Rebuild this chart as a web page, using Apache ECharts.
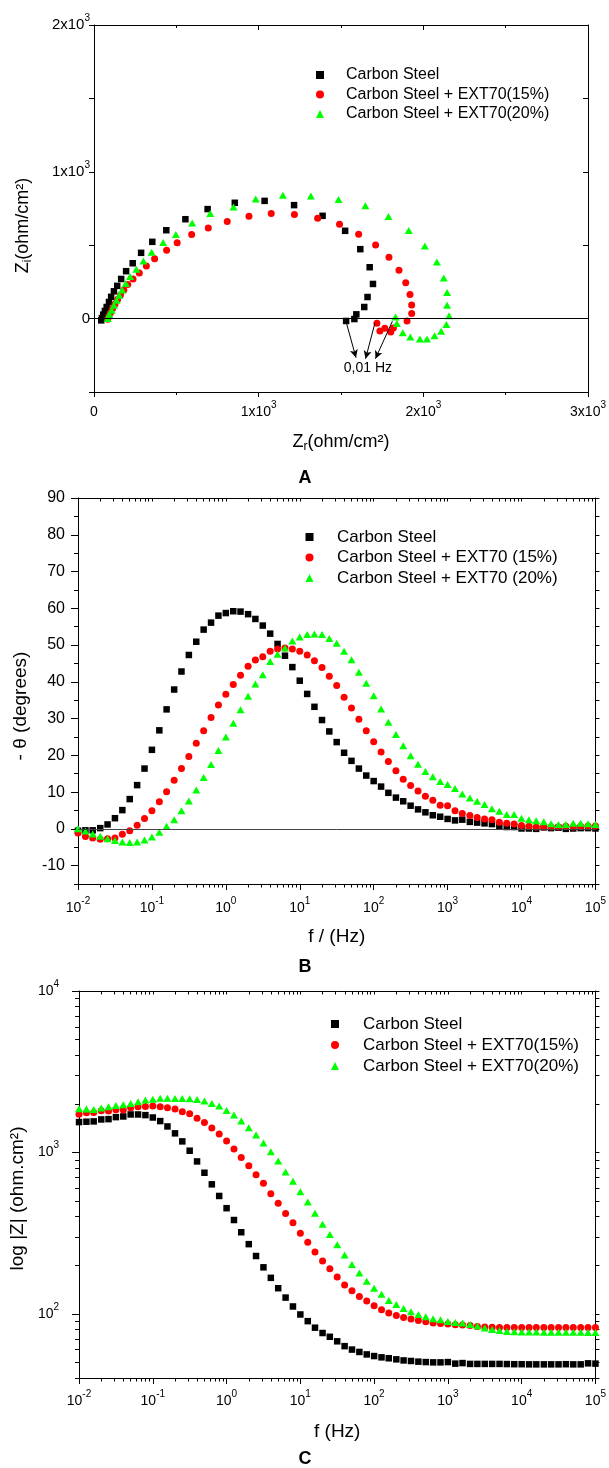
<!DOCTYPE html>
<html>
<head>
<meta charset="utf-8">
<title>EIS</title>
<script src="https://cdn.jsdelivr.net/npm/echarts@6.0.0/dist/echarts.min.js"></script>
<style>
html,body{margin:0;padding:0;background:#ffffff;}
#chart{width:609px;height:1468px;}
</style>
</head>
<body>
<div id="chart"></div>
<script>
// ================= DATA =================
// Panel A – Nyquist (Zr, Zi in ohm/cm²), from high to low frequency
const nyqSteelZr = [44, 48, 56, 66, 77, 91, 104, 121, 141, 165, 195, 235, 286, 354, 439, 555, 690, 855, 1036, 1215, 1388, 1525, 1617, 1674, 1694, 1661, 1641, 1593, 1581, 1531];
const nyqSteelZi = [-12, 4, 27, 52, 79, 113, 148, 186, 223, 270, 323, 377, 448, 523, 602, 677, 746, 789, 802, 773, 700, 598, 473, 350, 236, 147, 79, 29, -3, -16];
const nyq15Zr = [83, 91, 101, 113, 127, 143, 161, 181, 205, 237, 275, 318, 368, 441, 505, 593, 694, 809, 941, 1076, 1217, 1358, 1491, 1607, 1710, 1791, 1852, 1893, 1919, 1929, 1929, 1901, 1818, 1802, 1766, 1736, 1718];
const nyq15Zi = [-5, 18, 41, 68, 98, 130, 161, 195, 232, 270, 311, 359, 407, 466, 516, 573, 618, 662, 698, 716, 709, 684, 643, 575, 502, 418, 330, 245, 164, 93, 34, -16, -64, -91, -66, -85, -32];
const nyq20Zr = [83, 92, 107, 121, 137, 153, 171, 193, 219, 257, 300, 350, 420, 497, 596, 706, 847, 982, 1147, 1317, 1485, 1648, 1788, 1911, 2009, 2082, 2124, 2144, 2144, 2156, 2140, 2108, 2068, 2022, 1979, 1921, 1875, 1839, 1831];
const nyq20Zi = [0, 29, 57, 91, 125, 159, 195, 239, 286, 336, 393, 452, 518, 573, 652, 716, 761, 814, 840, 836, 812, 768, 696, 600, 495, 386, 277, 177, 91, 20, -41, -87, -116, -139, -139, -125, -96, -34, 11];
// annotation arrows in panel A: [fromZr, fromZi, toZr, toZi]
const arrowsA = [[1531, -23, 1591, -266], [1706, -30, 1649, -273], [1812, -18, 1709, -273]];
const annotA = {text: '0,01 Hz', zr: 1663, zi: -340};

// Frequencies (Hz) for panels B and C
const freq = [0.01, 0.0126, 0.0158, 0.02, 0.0251, 0.0316, 0.0398, 0.0501, 0.0631, 0.0794,
  0.1, 0.126, 0.158, 0.2, 0.251, 0.316, 0.398, 0.501, 0.631, 0.794,
  1, 1.26, 1.58, 2, 2.51, 3.16, 3.98, 5.01, 6.31, 7.94,
  10, 12.6, 15.8, 20, 25.1, 31.6, 39.8, 50.1, 63.1, 79.4,
  100, 126, 158, 200, 251, 316, 398, 501, 631, 794,
  1000, 1260, 1580, 2000, 2510, 3160, 3980, 5010, 6310, 7940,
  10000, 12600, 15800, 20000, 25100, 31600, 39800, 50100, 63100, 79400, 100000];

// Panel B – phase angle (-θ, degrees)
const phaseSteel = [-0.5, -0.4, -0.4, 0.2, 1.2, 2.9, 5.1, 8.1, 11.9, 16.4,
  21.5, 26.8, 32.5, 37.9, 42.8, 47.3, 50.9, 54.2, 56.1, 58.0,
  58.7, 59.2, 59.1, 58.4, 57.1, 55.3, 53.1, 50.3, 47.1, 44.0,
  40.3, 36.7, 33.2, 29.6, 26.5, 23.6, 20.7, 18.5, 16.4, 14.5,
  13.0, 11.5, 9.8, 8.5, 7.5, 6.3, 5.3, 4.5, 3.7, 3.3,
  2.7, 2.3, 2.5, 1.9, 1.7, 1.5, 1.3, 0.7, 0.5, 0.5,
  0.1, 0.1, 0.0, 0.4, 0.2, 0.3, 0.0, 0.1, 0.2, 0.2, 0.1];
const phase15 = [-1.1, -2.1, -2.5, -2.8, -2.7, -2.5, -1.5, -0.5, 1.0, 2.8,
  4.9, 7.4, 10.1, 13.2, 16.4, 19.7, 23.3, 26.7, 30.3, 33.7,
  36.6, 39.3, 41.8, 44.2, 45.9, 46.8, 48.3, 48.9, 49.2, 48.9,
  48.3, 47.3, 45.7, 43.9, 41.5, 39.0, 35.8, 32.9, 29.8, 26.7,
  23.7, 20.9, 18.3, 15.8, 13.5, 11.8, 10.3, 8.9, 7.8, 6.4,
  6.3, 4.9, 4.2, 3.6, 3.1, 2.7, 2.5, 1.8, 1.5, 1.3,
  0.9, 0.7, 0.5, 0.5, 0.5, 0.5, 0.7, 0.5, 0.7, 0.8, 0.8];
const phase20 = [0.0, -0.6, -1.4, -2.0, -2.7, -3.2, -3.6, -3.7, -3.6, -3.0,
  -2.2, -0.9, 0.7, 2.5, 4.9, 7.6, 10.6, 14.0, 17.5, 21.3,
  25.0, 28.7, 32.4, 36.1, 39.4, 41.9, 45.5, 47.5, 49.2, 51.1,
  52.2, 52.9, 53.0, 52.9, 51.8, 50.5, 48.3, 46.0, 42.6, 39.6,
  36.2, 32.6, 29.0, 25.7, 22.6, 19.9, 17.6, 15.6, 14.2, 12.9,
  12.1, 11.0, 9.5, 8.4, 7.5, 6.6, 5.5, 4.8, 3.9, 3.9,
  2.9, 2.5, 2.2, 1.9, 1.4, 1.2, 1.2, 1.5, 1.5, 1.4, 1.2];

// Panel C – |Z| (ohm.cm²)
const modSteel = [1541, 1549, 1556, 1600, 1607, 1654, 1670, 1718, 1718, 1702,
  1645, 1563, 1448, 1312, 1170, 1024, 879, 748, 634, 537,
  451, 381, 320, 270, 228, 194, 167, 144, 126, 111,
  99, 90, 82, 76, 72, 67.5, 63, 60, 58, 56,
  54.7, 53.7, 53, 52.2, 51.4, 51, 50.5, 50.2, 50, 50,
  50.2, 49.1, 49.5, 48.9, 48.9, 48.9, 48.9, 48.9, 48.8, 48.7,
  48.7, 48.6, 48.6, 48.6, 48.6, 48.6, 48.7, 48.6, 48.6, 49.3, 49.1];
const mod15 = [1726, 1758, 1767, 1810, 1802, 1838, 1828, 1888, 1916, 1926,
  1936, 1916, 1888, 1854, 1786, 1734, 1630, 1534, 1416, 1298,
  1175, 1049, 931, 827, 728, 643, 555, 484, 418, 366,
  316, 277, 241, 212, 190, 169, 151, 139, 128, 120,
  112, 106, 101, 97.7, 94.9, 92.7, 90.9, 89.3, 87.6, 87.2,
  86.3, 85.5, 85.1, 84.7, 83.5, 82.8, 82.5, 82.3, 82.3, 82.2,
  82.2, 82.2, 82.2, 82.3, 82.2, 82.2, 82.2, 82.2, 82.2, 82.3, 82.2];
const mod20 = [1862, 1854, 1845, 1881, 1916, 1953, 1972, 2010, 2057, 2108,
  2138, 2168, 2168, 2158, 2158, 2148, 2128, 2080, 2010, 1936,
  1820, 1702, 1563, 1422, 1280, 1142, 1009, 884, 755, 662,
  571, 493, 420, 359, 310, 268, 231, 202, 179, 159,
  144, 132, 121, 114, 108, 103, 99, 95.8, 93.1, 91.8,
  89.7, 88.4, 87.6, 85.9, 83.9, 81.5, 80.0, 78.9, 77.6, 77.4,
  77.2, 77.0, 77.0, 76.9, 76.8, 76.8, 76.8, 76.7, 76.7, 76.6, 76.5];

// Legend / series names
const namesAC = ['Carbon Steel', 'Carbon Steel + EXT70(15%)', 'Carbon Steel + EXT70(20%)'];
const namesB = ['Carbon Steel', 'Carbon Steel + EXT70 (15%)', 'Carbon Steel + EXT70 (20%)'];

// Tick values
const logMajorX = [0.01, 0.1, 1, 10, 100, 1000, 10000, 100000];
const logMinorX = [];
for (let d = -2; d <= 4; d++) { for (let k = 2; k <= 9; k++) { logMinorX.push(parseFloat((k * Math.pow(10, d)).toPrecision(3))); } }
const modMajorY = [100, 1000, 10000];
const modMinorY = [40, 50, 60, 70, 80, 90, 200, 300, 400, 500, 600, 700, 800, 900, 2000, 3000, 4000, 5000, 6000, 7000, 8000, 9000];
const phaseMajorY = [-10, 0, 10, 20, 30, 40, 50, 60, 70, 80, 90];
const phaseMinorY = [-15, -5, 5, 15, 25, 35, 45, 55, 65, 75, 85];

// ================= STYLE =================
const FF = 'Liberation Sans, Arial, Helvetica, sans-serif';
const COLORS = ['#000000', '#ff0000', '#00ff00'];
const SYMBOLS = ['rect', 'circle', 'triangle'];
const SIZES = [6.5, 7, [8, 7]];

function supRich(fs, sfs) {
  return {
    b: {fontSize: fs, lineHeight: 19, verticalAlign: 'bottom', fontFamily: FF, color: '#000'},
    s: {fontSize: sfs, lineHeight: sfs, verticalAlign: 'top', fontFamily: FF, color: '#000'}
  };
}
function isPow10(v) { const l = Math.log10(v); return Math.abs(l - Math.round(l)) < 1e-6; }
function logLabel(v) { if (!isPow10(v)) return ''; return '{b|10}{s|' + Math.round(Math.log10(v)) + '}'; }
function kLabel(v) { if (Math.abs(v) < 1e-9) return '{b|0}'; if (v % 1000 !== 0) return ''; return '{b|' + (v / 1000) + 'x10}{s|3}'; }

const lineStyle = {color: '#000', width: 1};
function baseAxis(extra) {
  return Object.assign({
    splitLine: {show: false},
    axisLine: {show: true, onZero: false, lineStyle: lineStyle},
    axisTick: {show: true, lineStyle: lineStyle},
    axisLabel: {show: false},
    axisPointer: {show: false}
  }, extra);
}
function subRichName(fs) {
  return {
    b: {fontSize: fs, lineHeight: fs, verticalAlign: 'top', fontFamily: FF, color: '#000'},
    sub: {fontSize: 12, lineHeight: 20, verticalAlign: 'bottom', fontFamily: FF, color: '#000'}
  };
}

// ================= AXES =================
const xAxes = [
  // 0: A bottom
  baseAxis({gridIndex: 0, type: 'value', position: 'bottom', min: 0, max: 3000, interval: 1000,
    axisTick: {show: true, length: 5, lineStyle: lineStyle},
    minorTick: {show: true, splitNumber: 2, length: 3, lineStyle: lineStyle},
    axisLabel: {show: true, margin: 8, formatter: kLabel, rich: supRich(14, 10)},
    name: '{b|Z}{sub|r}{b|(ohm/cm²)}', nameLocation: 'middle', nameGap: 41,
    nameTextStyle: {rich: subRichName(18)}}),
  // 1: A top mirror
  baseAxis({gridIndex: 0, type: 'value', position: 'top', min: 0, max: 3000, interval: 1000,
    axisTick: {show: true, inside: true, length: 5, lineStyle: lineStyle},
    minorTick: {show: true, splitNumber: 2, length: 3, lineStyle: lineStyle}}),
  // 2: B bottom (major)
  baseAxis({gridIndex: 1, type: 'log', logBase: 10, position: 'bottom', min: 0.01, max: 100000, interval: 1,
    axisTick: {show: true, length: 6, customValues: logMajorX, lineStyle: lineStyle},
    axisLabel: {show: true, margin: 12, interval: 0, hideOverlap: false, formatter: logLabel, customValues: logMajorX, rich: supRich(14, 10)},
    name: 'f / (Hz)', nameLocation: 'middle', nameGap: 43,
    nameTextStyle: {fontSize: 19, fontFamily: FF, color: '#000'}}),
  // 3: B bottom minor
  baseAxis({gridIndex: 1, type: 'log', logBase: 10, position: 'bottom', min: 0.01, max: 100000,
    axisLine: {show: false, onZero: false},
    axisTick: {show: true, length: 3.5, customValues: logMinorX, lineStyle: lineStyle}}),
  // 4: B top mirror
  baseAxis({gridIndex: 1, type: 'log', logBase: 10, position: 'top', min: 0.01, max: 100000,
    axisTick: {show: true, inside: true, length: 3.5, customValues: logMajorX.concat(logMinorX), lineStyle: lineStyle}}),
  // 5: C bottom (major)
  baseAxis({gridIndex: 2, type: 'log', logBase: 10, position: 'bottom', min: 0.01, max: 100000, interval: 1,
    axisTick: {show: true, length: 6, customValues: logMajorX, lineStyle: lineStyle},
    axisLabel: {show: true, margin: 11, interval: 0, hideOverlap: false, formatter: logLabel, customValues: logMajorX, rich: supRich(14, 10)},
    name: 'f (Hz)', nameLocation: 'middle', nameGap: 44,
    nameTextStyle: {fontSize: 19, fontFamily: FF, color: '#000'}}),
  // 6: C bottom minor
  baseAxis({gridIndex: 2, type: 'log', logBase: 10, position: 'bottom', min: 0.01, max: 100000,
    axisLine: {show: false, onZero: false},
    axisTick: {show: true, length: 3.5, customValues: logMinorX, lineStyle: lineStyle}}),
  // 7: C top mirror
  baseAxis({gridIndex: 2, type: 'log', logBase: 10, position: 'top', min: 0.01, max: 100000,
    axisTick: {show: true, inside: true, length: 3.5, customValues: logMajorX.concat(logMinorX), lineStyle: lineStyle}})
];

const yAxes = [
  // 0: A left
  baseAxis({gridIndex: 0, type: 'value', position: 'left', min: -500, max: 2000, interval: 500,
    axisTick: {show: true, length: 5, lineStyle: lineStyle},
    axisLabel: {show: true, margin: 4, padding: [0, 0, 4, 0], formatter: kLabel, rich: supRich(15, 10)},
    name: '{b|Z}{sub|i}{b|(ohm/cm²)}', nameLocation: 'middle', nameGap: 60, nameRotate: 90,
    nameTextStyle: {rich: subRichName(18), padding: [0, 34, 0, 0]}}),
  // 1: A right mirror
  baseAxis({gridIndex: 0, type: 'value', position: 'right', min: -500, max: 2000, interval: 500,
    axisTick: {show: true, inside: true, length: 5, lineStyle: lineStyle}}),
  // 2: B left (major)
  baseAxis({gridIndex: 1, type: 'value', position: 'left', min: -15, max: 90, interval: 5,
    axisTick: {show: true, length: 7, customValues: phaseMajorY, lineStyle: lineStyle},
    axisLabel: {show: true, margin: 13, fontSize: 16, fontFamily: FF, color: '#000',
      formatter: function (v) { return (Math.abs(v % 10) < 1e-9) ? String(v) : ''; }},
    name: '- θ (degrees)', nameLocation: 'middle', nameGap: 48, nameRotate: 90,
    nameTextStyle: {fontSize: 19, fontFamily: FF, color: '#000', padding: [0, 30, 0, 0]}}),
  // 3: B left minor
  baseAxis({gridIndex: 1, type: 'value', position: 'left', min: -15, max: 90, interval: 5,
    axisLine: {show: false, onZero: false},
    axisTick: {show: true, length: 4, customValues: phaseMinorY, lineStyle: lineStyle}}),
  // 4: B right mirror
  baseAxis({gridIndex: 1, type: 'value', position: 'right', min: -15, max: 90, interval: 5,
    axisTick: {show: true, length: 4, lineStyle: lineStyle}}),
  // 5: C left (major)
  baseAxis({gridIndex: 2, type: 'log', logBase: 10, position: 'left', min: 40, max: 10000,
    axisTick: {show: true, length: 7, customValues: modMajorY, lineStyle: lineStyle},
    axisLabel: {show: true, margin: 20, padding: [0, 0, 5, 0], formatter: logLabel, customValues: modMajorY, rich: supRich(14, 10)},
    name: 'log |Z| (ohm.cm²)', nameLocation: 'middle', nameGap: 43, nameRotate: 90,
    nameTextStyle: {fontSize: 19, fontFamily: FF, color: '#000', padding: [0, 28, 0, 0]}}),
  // 6: C left minor
  baseAxis({gridIndex: 2, type: 'log', logBase: 10, position: 'left', min: 40, max: 10000,
    axisLine: {show: false, onZero: false},
    axisTick: {show: true, length: 4, customValues: modMinorY, lineStyle: lineStyle}}),
  // 7: C right mirror
  baseAxis({gridIndex: 2, type: 'log', logBase: 10, position: 'right', min: 40, max: 10000,
    axisTick: {show: true, length: 4, customValues: modMajorY.concat(modMinorY), lineStyle: lineStyle}})
];

// ================= SERIES =================
function scatter(name, idx, data, xi, yi, extra) {
  return Object.assign({
    type: 'scatter', name: name, xAxisIndex: xi, yAxisIndex: yi,
    symbol: SYMBOLS[idx], symbolSize: SIZES[idx],
    itemStyle: {color: COLORS[idx], opacity: 1},
    emphasis: {disabled: true},
    data: data
  }, extra || {});
}
const pairs = (xs, ys) => xs.map((x, i) => [x, ys[i]]);
const fPairs = (vals) => freq.map((f, i) => [f, vals[i]]);

const zeroLine = (color) => ({
  silent: true, symbol: ['none', 'none'], animation: false,
  label: {show: false}, lineStyle: {color: color, width: 1, type: 'solid'},
  data: [{yAxis: 0}]
});

const series = [
  scatter(namesAC[0], 0, pairs(nyqSteelZr, nyqSteelZi), 0, 0, {markLine: zeroLine('#000')}),
  scatter(namesAC[1], 1, pairs(nyq15Zr, nyq15Zi), 0, 0, {
    markLine: {
      silent: true, animation: false, symbol: ['none', 'arrow'], symbolSize: [6, 8],
      label: {show: false}, lineStyle: {color: '#000', width: 1, type: 'solid'},
      data: arrowsA.map(a => [{coord: [a[0], a[1]]}, {coord: [a[2], a[3]]}])
    },
    markPoint: {
      silent: true, animation: false, symbol: 'circle', symbolSize: 1,
      itemStyle: {color: 'rgba(0,0,0,0)'},
      label: {show: true, position: 'inside', formatter: annotA.text, fontSize: 14, fontFamily: FF, color: '#000'},
      data: [{coord: [annotA.zr, annotA.zi]}]
    }
  }),
  scatter(namesAC[2], 2, pairs(nyq20Zr, nyq20Zi), 0, 0),

  scatter(namesB[0], 0, fPairs(phaseSteel), 2, 2, {markLine: zeroLine('#444')}),
  scatter(namesB[1], 1, fPairs(phase15), 2, 2),
  scatter(namesB[2], 2, fPairs(phase20), 2, 2),

  scatter(namesAC[0], 0, fPairs(modSteel), 5, 5),
  scatter(namesAC[1], 1, fPairs(mod15), 5, 5),
  scatter(namesAC[2], 2, fPairs(mod20), 5, 5)
];

// legend: marker centre x, text start x, first-row centre y
function legend(markerX, textX, rowY, fs, gap, names) {
  return {
    orient: 'vertical', left: markerX - 4, top: rowY - fs / 2, itemWidth: 8, itemHeight: 8, itemGap: gap,
    selectedMode: false, padding: 0,
    textStyle: {fontSize: fs, fontFamily: FF, color: '#000', padding: [0, 0, 0, textX - (markerX + 4 + 5)]},
    data: names.map((n, i) => ({name: n, icon: SYMBOLS[i]}))
  };
}

const option = {
  animation: false,
  backgroundColor: '#ffffff',
  textStyle: {fontFamily: FF, color: '#000'},
  grid: [
    {left: 94, top: 25, width: 497, height: 367},
    {left: 78, top: 498, width: 520, height: 386},
    {left: 78, top: 991, width: 520, height: 387}
  ],
  legend: [
    legend(320, 346, 75, 16, 3.5, namesAC),
    legend(309.5, 337, 537, 17, 3.5, namesB),
    legend(335, 363, 1024, 17, 4, namesAC)
  ],
  graphic: [
    {type: 'text', x: 305, y: 478, style: {text: 'A', font: 'bold 18px ' + FF, fill: '#000', textAlign: 'center', textVerticalAlign: 'middle'}},
    {type: 'text', x: 305, y: 967, style: {text: 'B', font: 'bold 18px ' + FF, fill: '#000', textAlign: 'center', textVerticalAlign: 'middle'}},
    {type: 'text', x: 305, y: 1459, style: {text: 'C', font: 'bold 18px ' + FF, fill: '#000', textAlign: 'center', textVerticalAlign: 'middle'}}
  ],
  xAxis: xAxes,
  yAxis: yAxes,
  series: series
};

const chart = echarts.init(document.getElementById('chart'), null, {renderer: 'canvas', width: 609, height: 1468});
chart.setOption(option);
</script>
</body>
</html>
